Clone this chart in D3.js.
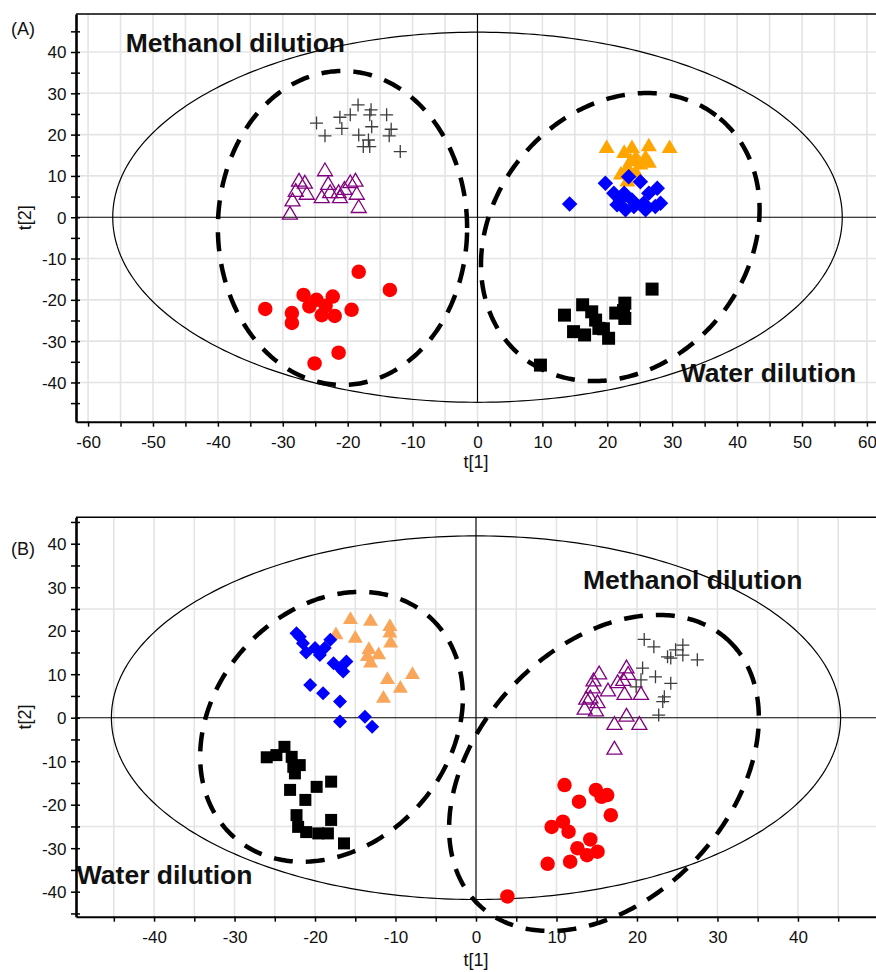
<!DOCTYPE html>
<html>
<head>
<meta charset="utf-8">
<script src="https://cdn.jsdelivr.net/npm/d3@7"></script>
<style>
  body { margin: 0; background: #fff; }
  svg { display: block; font-family: "Liberation Sans", Arial, sans-serif; }
</style>
</head>
<body>
<svg id="chart" width="876" height="972"></svg>
<script>
// ---------- panel (A) scores [t1, t2] ----------
const aRed = [[-32.7,-22.2],[-28.6,-23.2],[-28.6,-25.6],[-26.8,-18.8],[-24.8,-20.0],[-25.9,-21.6],
  [-22.3,-19.2],[-24.0,-23.7],[-22.0,-23.9],[-19.4,-22.4],[-18.3,-13.2],[-13.5,-17.6],
  [-21.4,-32.8],[-25.1,-35.4],[-23.4,-21.4]];
const aBlack = [[26.9,-17.4],[16.2,-21.2],[13.4,-23.7],[17.6,-22.9],[18.2,-24.9],[18.7,-26.9],
  [14.8,-27.7],[16.5,-28.5],[20.2,-29.3],[22.7,-20.8],[21.3,-23.2],[22.7,-24.5],[22.5,-22.6],
  [9.7,-35.8],[19.4,-27.0]];
const aBlue = [[14.2,3.2],[19.7,8.2],[21.0,5.8],[22.6,5.8],[23.8,4.2],[25.6,3.4],[27.4,2.6],
  [27.7,7.0],[26.4,5.8],[21.5,3.0],[22.8,1.8],[24.1,2.6],[25.9,1.8],[25.1,8.6],[22.0,4.2],
  [28.2,3.4],[23.3,9.8]];
const aOrange = [[19.9,17.1],[22.6,15.9],[23.8,17.1],[26.4,17.5],[29.6,17.1],[24.4,14.7],
  [26.4,13.5],[23.1,12.3],[22.1,10.7],[24.4,11.0],[23.1,9.0],[25.1,13.1],[23.6,13.9],[25.9,14.7]];
const aPurple = [[-28.9,1.0],[-28.5,4.2],[-28.0,6.5],[-27.5,9.0],[-26.6,8.5],[-26.3,5.8],
  [-24.0,5.0],[-23.5,11.5],[-23.0,8.2],[-22.7,6.2],[-21.4,6.2],[-21.2,5.0],[-19.6,8.6],
  [-18.8,9.0],[-18.6,5.8],[-18.3,2.6],[-20.5,7.0]];
const aGray = [[-24.8,22.8],[-23.5,19.7],[-21.2,24.2],[-20.9,21.5],[-19.6,24.8],[-18.4,27.2],
  [-18.3,19.9],[-17.6,17.1],[-16.6,17.1],[-16.4,26.0],[-16.6,24.8],[-16.3,21.9],[-14.0,24.8],
  [-13.6,19.7],[-13.3,21.3],[-11.9,15.9],[-16.8,18.7]];

// ---------- panel (B) scores [t1, t2] ----------
const bRed = [[11.0,-15.5],[14.9,-16.6],[16.3,-17.8],[15.6,-18.2],[12.8,-19.3],[16.75,-22.4],
  [9.4,-25.1],[10.8,-23.9],[11.5,-26.2],[14.2,-28.0],[12.6,-30.0],[13.8,-31.6],[15.1,-30.8],
  [8.9,-33.6],[11.7,-33.1],[3.9,-41.1]];
const bBlack = [[-26.0,-9.1],[-24.8,-8.6],[-23.8,-6.7],[-22.9,-9.0],[-22.7,-11.3],[-22.5,-12.8],
  [-23.1,-16.6],[-22.3,-22.4],[-22.1,-25.1],[-21.9,-10.9],[-19.8,-15.9],[-18.0,-14.7],
  [-21.2,-18.9],[-18.0,-23.5],[-19.6,-26.6],[-18.4,-26.6],[-16.4,-28.9],[-21.1,-26.3]];
const bBlue = [[-22.3,19.4],[-21.9,18.6],[-21.5,17.1],[-20.0,16.0],[-19.4,14.4],[-18.8,16.0],
  [-18.1,17.9],[-17.7,12.5],[-16.9,11.4],[-16.1,12.9],[-16.5,10.6],[-20.6,7.5],[-19.0,5.6],
  [-16.9,3.7],[-16.9,-0.9],[-13.8,0.2],[-12.9,-2.1],[-21.1,15.0]];
const bOrange = [[-15.6,22.9],[-13.1,22.5],[-17.4,19.4],[-15.0,18.6],[-10.7,21.3],[-10.7,19.8],
  [-10.6,17.5],[-13.3,16.0],[-12.1,14.8],[-13.5,14.4],[-13.1,12.9],[-7.9,10.3],[-11.0,9.1],
  [-9.4,7.1],[-11.5,4.8]];
const bPurple = [[15.3,10.3],[14.5,7.1],[13.7,4.5],[15.1,3.7],[14.9,1.8],[16.4,6.4],[17.6,8.3],
  [18.7,11.7],[18.9,10.2],[18.3,8.8],[18.45,5.6],[20.5,5.6],[18.7,0.6],[17.2,-1.3],[20.3,-1.3],
  [14.2,4.8],[14.6,8.7],[17.2,-7.0],[13.5,2.2]];
const bGray = [[20.9,18.0],[22.1,16.3],[25.7,16.7],[24.8,15.6],[25.7,14.4],[23.8,14.0],
  [24.2,13.7],[27.5,13.3],[20.7,11.4],[22.3,9.4],[24.2,7.9],[20.5,8.7],[19.9,7.1],[23.4,4.8],
  [23.2,3.7],[22.7,0.6]];

// ---------- ticks ----------
const aXLabels = [-60,-50,-40,-30,-20,-10,0,10,20,30,40,50,60];
const aYLabels = [-40,-30,-20,-10,0,10,20,30,40];
const bXLabels = [-40,-30,-20,-10,0,10,20,30,40];
const bYLabels = [-40,-30,-20,-10,0,10,20,30,40];

// ---------- Hotelling ellipses [rx, ry] and group ellipses (centre, conjugate axes) ----------
const aT2 = [56.2, 44.8];
const bT2 = [45.3, 41.8];
const aGroups = [
  { c: [-20.8, -2.6], u: [19.2, 0], v: [0, 38.0] },
  { c: [22.0, -4.8], u: [15.35, 28.7], v: [15.0, -19.8] }
];
const bGroups = [
  { c: [-17.95, -2.1], u: [12.15, 25.3], v: [10.9, -17.95] },
  { c: [15.9, -12.7], u: [15.5, 30.4], v: [11.4, -19.9] }
];

const svg = d3.select('#chart');

function markerPath(shape, s) {
  const h = s / 2;
  if (shape === 'circle') return d3.symbol(d3.symbolCircle, Math.PI * h * h)();
  if (shape === 'square') return `M${-h},${-h}H${h}V${h}H${-h}Z`;
  if (shape === 'diamond') return `M0,${-h}L${h},0L0,${h}L${-h},0Z`;
  if (shape === 'triangle') return `M0,${-h * 0.9}L${h},${h * 0.8}L${-h},${h * 0.8}Z`;
  if (shape === 'cross') return `M${-h},0H${h}M0,${-h}V${h}`;
}

function drawPanel(p) {
  const g = svg.append('g');
  const x = d3.scaleLinear().domain(p.xDomain).range([76, 876]);
  const y = d3.scaleLinear().domain(p.yDomain).range(p.yRange);
  const [yBot, yTop] = p.yRange;

  // grid
  g.append('g').selectAll('line').data(p.xGrid).join('line')
    .attr('x1', d => x(d)).attr('x2', d => x(d))
    .attr('y1', yBot).attr('y2', yTop)
    .attr('stroke', '#e4e4e4').attr('stroke-width', 1.6);
  g.append('g').selectAll('line').data(p.yGrid).join('line')
    .attr('x1', 76).attr('x2', 876)
    .attr('y1', d => y(d)).attr('y2', d => y(d))
    .attr('stroke', '#e4e4e4').attr('stroke-width', 1.6);

  // zero lines
  g.append('line').attr('x1', 76).attr('x2', 876).attr('y1', y(0)).attr('y2', y(0))
    .attr('stroke', '#000').attr('stroke-width', 1.1);
  g.append('line').attr('x1', x(0)).attr('x2', x(0)).attr('y1', yTop).attr('y2', y(-p.t2[1]))
    .attr('stroke', '#000').attr('stroke-width', 1.1);

  // top frame
  g.append('line').attr('x1', 76).attr('x2', 876).attr('y1', yTop).attr('y2', yTop)
    .attr('stroke', '#000').attr('stroke-width', 1.6);

  // annotation text
  g.selectAll('text.note').data(p.notes).join('text')
    .attr('class', 'note')
    .attr('x', d => x(d.at[0])).attr('y', d => y(d.at[1]))
    .attr('font-size', 26.5).attr('font-weight', 'bold').attr('fill', '#111')
    .text(d => d.text);

  // Hotelling T2 ellipse
  const angles = d3.range(0, 360, 1).map(a => a * Math.PI / 180);
  const line = d3.line().x(d => x(d[0])).y(d => y(d[1])).curve(d3.curveLinearClosed);
  g.append('path')
    .attr('d', line(angles.map(a => [p.t2[0] * Math.cos(a), p.t2[1] * Math.sin(a)])))
    .attr('fill', 'none').attr('stroke', '#000').attr('stroke-width', 1.2);

  // markers
  p.series.forEach(s => {
    g.append('g').selectAll('path').data(s.data).join('path')
      .attr('transform', d => `translate(${x(d[0])},${y(d[1])})`)
      .attr('d', markerPath(s.shape, s.size))
      .attr('fill', s.fill || 'none')
      .attr('stroke', s.stroke || 'none')
      .attr('stroke-width', s.sw || 0);
  });

  // dashed group ellipses
  g.selectAll('path.grp').data(p.groups).join('path')
    .attr('class', 'grp')
    .attr('d', e => line(angles.map(a => [
      e.c[0] + e.u[0] * Math.cos(a) + e.v[0] * Math.sin(a),
      e.c[1] + e.u[1] * Math.cos(a) + e.v[1] * Math.sin(a)])))
    .attr('fill', 'none').attr('stroke', '#000').attr('stroke-width', 4.5)
    .attr('stroke-dasharray', '19,13');

  // axes
  const fmtX = d => p.xLabels.includes(d) ? String(d) : '';
  const fmtY = d => p.yLabels.includes(d) ? String(d) : '';
  const xAxis = g.append('g').attr('transform', `translate(0,${yBot})`)
    .call(d3.axisBottom(x).tickValues(p.xTicks).tickSize(5).tickSizeOuter(0).tickFormat(fmtX));
  xAxis.select('.domain').attr('stroke-width', 2);
  xAxis.selectAll('.tick line').attr('stroke-width', 1.5);
  xAxis.selectAll('.tick text').attr('y', 26).attr('dy', 0)
    .attr('font-size', 17).attr('font-family', null).attr('fill', '#111');

  const yAxis = g.append('g').attr('transform', 'translate(76,0)')
    .call(d3.axisLeft(y).tickValues(p.yTicks).tickSize(5).tickSizeOuter(0).tickFormat(fmtY));
  yAxis.select('.domain').attr('stroke-width', 2.6);
  yAxis.selectAll('.tick line').attr('x1', 4).attr('x2', -5).attr('stroke-width', 1.5);
  yAxis.selectAll('.tick text').attr('x', -9.5).attr('dy', '0.35em')
    .attr('font-size', 17).attr('font-family', null).attr('fill', '#111');
  xAxis.attr('font-family', null);
  yAxis.attr('font-family', null);

  // axis titles and panel letter
  g.append('text').attr('x', 476).attr('y', p.xTitleY).attr('text-anchor', 'middle')
    .attr('font-size', 18).attr('fill', '#111').text('t[1]');
  g.append('text').attr('transform', `translate(31,${(yBot + yTop) / 2}) rotate(-90)`)
    .attr('text-anchor', 'middle').attr('font-size', 18).attr('fill', '#111').text('t[2]');
  g.append('text').attr('x', 11).attr('y', p.letterY)
    .attr('font-size', 18).attr('fill', '#111').text(p.letter);
}

drawPanel({
  letter: '(A)', letterY: 35,
  xDomain: [-61.86, 61.4], yDomain: [-49.5, 49.2], yRange: [421.7, 14],
  xTicks: d3.range(-60, 61, 5), yTicks: d3.range(-45, 46, 5),
  xLabels: aXLabels, yLabels: aYLabels,
  xGrid: d3.range(-60, 61, 5), yGrid: [-40, -30, -20, -10, 10, 20, 30, 40],
  xTitleY: 468,
  t2: aT2, groups: aGroups,
  notes: [{ text: 'Methanol dilution', at: [-54.2, 40.1] }, { text: 'Water dilution', at: [31.3, -39.8] }],
  series: [
    { data: aGray, shape: 'cross', size: 13, stroke: '#3c3c3c', sw: 1.3 },
    { data: aPurple, shape: 'triangle', size: 15, stroke: '#800080', sw: 1.3 },
    { data: aRed, shape: 'circle', size: 14.5, fill: '#ff0000' },
    { data: aBlack, shape: 'square', size: 13, fill: '#000' },
    { data: aOrange, shape: 'triangle', size: 16, fill: '#ffa500' },
    { data: aBlue, shape: 'diamond', size: 15.5, fill: '#0000ff' }
  ]
});

drawPanel({
  letter: '(B)', letterY: 555,
  xDomain: [-49.7, 49.7], yDomain: [-45.75, 46.07], yRange: [916.7, 517.3],
  xTicks: d3.range(-45, 46, 5), yTicks: d3.range(-45, 46, 5),
  xLabels: bXLabels, yLabels: bYLabels,
  xGrid: d3.range(-45, 46, 5), yGrid: [-25, 25],
  xTitleY: 966,
  t2: bT2, groups: bGroups,
  notes: [{ text: 'Methanol dilution', at: [13.3, 29.5] }, { text: 'Water dilution', at: [-49.6, -38.3] }],
  series: [
    { data: bGray, shape: 'cross', size: 13, stroke: '#3c3c3c', sw: 1.3 },
    { data: bPurple, shape: 'triangle', size: 15, stroke: '#800080', sw: 1.3 },
    { data: bRed, shape: 'circle', size: 14.5, fill: '#ff0000' },
    { data: bBlack, shape: 'square', size: 12, fill: '#000' },
    { data: bOrange, shape: 'triangle', size: 15, fill: '#f9a65a' },
    { data: bBlue, shape: 'diamond', size: 14, fill: '#0000ff' }
  ]
});
</script>
</body>
</html>
